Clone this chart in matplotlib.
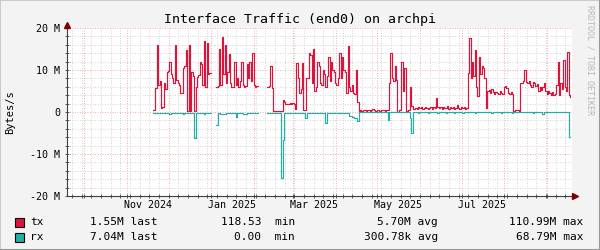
import matplotlib
matplotlib.use("Agg")
import matplotlib.pyplot as plt
import matplotlib.dates as mdates
from matplotlib.lines import Line2D
from matplotlib.patches import Rectangle
from matplotlib.ticker import MultipleLocator, FixedLocator, FixedFormatter, NullFormatter
from matplotlib.transforms import ScaledTranslation, blended_transform_factory
import numpy as np
import pandas as pd

nan = np.nan

# one sample per day, MBytes/s
start_day = "2024-11-19 12:00"

tx = [
    0.4, 0.5, 5.7, 16.0, 6.5, 7.5, 1.0, 1.2, 7.0, 5.5,
    9.5, 9.8, 12.0, 9.0, 8.2, 7.0, 16.0, 7.6, 7.0, 6.5,
    4.5, 4.5, 10.5, 11.0, 14.8, 0.2, 16.0, 0.3, 9.5, 8.6,
    0.3, 6.0, 8.3, 8.8, 12.0, 11.5, 6.5, 17.0, 6.0, 16.5,
    9.0, 9.2, nan, nan, nan, nan, 6.0, 6.2, 15.0, 6.5,
    17.8, 9.0, 16.0, 7.0, 9.5, 13.7, 7.0, 6.0, 6.0, 12.0,
    6.5, 8.0, 6.0, 7.5, 12.0, 6.5, 6.0, 6.3, 11.5, 8.0,
    12.0, 7.5, 14.0, 6.5, 6.0, 6.2, nan, nan, nan, nan,
    nan, nan, nan, 6.0, 6.2, 11.0, 5.7, 0.3, 0.2, 0.3,
    0.3, 0.2, 0.3, 0.3, 2.9, 2.5, 1.8, 2.0, 1.9, 2.1,
    2.0, 2.2, 2.0, 0.8, 11.7, 8.2, 4.5, 5.5, 11.7, 0.4,
    0.5, 8.2, 8.0, 14.0, 13.5, 7.0, 15.0, 5.0, 6.0, 12.0,
    11.0, 7.0, 6.5, 10.0, 9.0, 6.0, 8.5, 13.0, 7.5, 12.0,
    10.0, 9.5, 7.0, 6.5, 8.0, 14.0, 8.0, 13.0, 10.0, 9.5,
    4.5, 15.7, 6.0, 5.0, 6.5, 4.5, 4.3, 10.0, 2.5, 0.3,
    0.4, 0.3, 0.5, 0.4, 0.3, 0.4, 0.5, 0.3, 0.4, 0.6,
    0.4, 0.3, 0.5, 0.4, 0.3, 0.4, 0.5, 0.4, 0.3, 0.4,
    0.5, 7.0, 14.0, 8.0, 7.5, 11.0, 7.6, 0.1, 0.4, 0.5,
    12.0, 5.0, 10.5, 0.1, 0.3, 0.4, 6.0, 1.5, 0.6, 0.8,
    1.0, 0.7, 1.2, 0.9, 1.1, 0.8, 1.0, 1.3, 0.9, 0.7,
    1.0, 1.2, 0.8, 1.1, 0.9, 3.3, 1.2, 0.9, 1.1, 0.8,
    1.3, 0.9, 1.0, 1.5, 0.8, 1.1, 0.9, 1.2, 0.7, 1.0,
    1.6, 1.0, 0.8, 1.2, 0.9, 1.1, 0.7, 1.0, 9.3, 17.6,
    8.0, 12.0, 8.5, 14.8, 6.0, 3.8, 13.0, 9.0, 11.0, 10.5,
    8.0, 1.0, 5.0, 5.2, 4.6, 5.5, 4.8, 4.3, 4.8, 4.5,
    4.2, 4.9, 4.6, 4.4, 6.0, 6.3, 5.8, 4.5, 4.2, 4.7,
    4.4, 0.3, 0.5, 0.5, 0.4, 0.0, 7.0, 6.8, 7.5, 10.0,
    7.2, 6.8, 7.5, 6.5, 6.0, 7.2, 6.8, 6.2, 6.6, 5.0,
    6.0, 5.2, 6.0, 7.0, 5.0, 4.2, 5.0, 4.5, 4.0, 4.8,
    4.0, 4.2, 6.5, 12.0, 4.0, 7.0, 5.5, 12.4, 6.0, 5.0,
    14.3, 4.0, 3.6,
]

# rx is drawn below the zero line
rx = [
    0.2, 0.2, 0.3, 0.2, 0.2, 0.2, 0.3, 0.2, 0.2, 0.2,
    0.2, 0.2, 0.5, 0.2, 0.2, 0.2, 0.2, 0.2, 0.2, 0.2,
    0.2, 0.2, 0.5, 0.2, 0.2, 0.2, 0.2, 0.2, 0.2, 0.2,
    6.2, 0.3, 0.2, 0.2, 0.2, 0.2, 0.2, 0.5, 0.2, 0.2,
    0.2, 0.2, nan, nan, nan, nan, 3.0, 0.3, 0.3, 0.5,
    0.5, 0.5, 0.5, 0.2, 0.2, 0.2, 0.2, 0.2, 0.2, 0.2,
    1.2, 0.2, 0.2, 0.2, 0.2, 0.5, 0.5, 0.5, 0.2, 0.2,
    0.2, 0.2, 0.2, 0.2, 0.2, 0.2, nan, nan, nan, nan,
    nan, nan, nan, 0.2, 0.2, 0.2, 0.2, 0.2, 0.2, 0.2,
    0.2, 0.2, 0.2, 15.8, 6.7, 0.3, 0.3, 0.3, 0.3, 0.3,
    0.3, 0.3, 0.3, 0.3, 0.3, 0.2, 0.2, 0.2, 0.2, 0.3,
    1.4, 1.4, 0.3, 0.2, 0.2, 0.2, 0.2, 0.2, 0.2, 0.2,
    0.2, 0.2, 0.2, 0.2, 0.2, 2.6, 0.3, 0.2, 0.2, 0.2,
    0.2, 0.2, 0.2, 0.2, 0.2, 0.2, 0.2, 0.2, 0.2, 0.2,
    0.2, 0.2, 1.0, 1.0, 1.2, 1.3, 1.5, 1.4, 2.2, 0.05,
    0.05, 0.05, 0.05, 0.05, 0.05, 0.05, 0.05, 0.05, 0.05, 0.05,
    0.05, 0.05, 0.05, 0.05, 0.05, 0.05, 0.05, 0.05, 0.05, 0.05,
    1.8, 0.05, 0.05, 0.05, 0.05, 0.05, 0.05, 0.05, 0.05, 0.05,
    0.05, 0.05, 0.05, 0.05, 0.05, 0.05, 1.4, 5.0, 0.05, 0.05,
    0.05, 0.05, 0.3, 0.05, 0.05, 0.05, 0.05, 0.05, 0.05, 0.3,
    0.05, 0.05, 0.05, 0.05, 0.05, 0.05, 0.3, 0.05, 0.05, 0.05,
    0.05, 0.05, 0.3, 0.05, 0.05, 0.05, 0.05, 0.05, 0.3, 0.05,
    0.05, 0.05, 0.05, 0.05, 0.3, 0.05, 0.05, 0.05, 0.05, 0.05,
    0.05, 0.05, 0.05, 0.3, 0.05, 0.05, 0.05, 0.05, 0.05, 0.05,
    0.05, 0.05, 0.05, 0.05, 0.05, 0.3, 0.05, 0.05, 0.05, 0.05,
    0.05, 0.05, 0.3, 0.05, 0.05, 0.05, 0.05, 0.05, 0.05, 0.05,
    0.3, 0.05, 0.05, 0.05, 0.05, 0.05, 0.05, 0.05, 0.05, 0.05,
    0.05, 0.05, 0.05, 0.05, 0.05, 0.3, 0.05, 0.05, 0.05, 0.05,
    0.05, 0.05, 0.5, 0.05, 0.05, 0.05, 0.05, 0.05, 0.05, 0.05,
    0.05, 0.05, 0.05, 0.05, 0.05, 0.05, 0.05, 0.05, 0.05, 0.05,
    0.05, 6.0, 6.0,
]

x_start = "2024-09-18 03:00"
x_end = "2025-09-18 22:00"

label_months = ["2024-11-01", "2025-01-01", "2025-03-01", "2025-05-01", "2025-07-01"]
month_labels = ["Nov 2024", "Jan 2025", "Mar 2025", "May 2025", "Jul 2025"]

y_ticks = [-20, -10, 0, 10, 20]
y_tick_labels = ["-20 M", "-10 M", "0", "10 M", "20 M"]

series_names = ["tx", "rx"]
legend_last = ["1.55M last", "7.04M last"]
legend_min = ["118.53  min", "0.00  min"]
legend_avg = ["5.70M avg", "300.78k avg"]
legend_max = ["110.99M max", "68.79M max"]

TX_COLOR = "#DC143C"
RX_COLOR = "#20B0A8"
colors = [TX_COLOR, RX_COLOR]

plt.rcParams["font.family"] = ["DejaVu Sans Mono"]

W, H = 600, 250
fig = plt.figure(figsize=(6, 2.5), dpi=100, facecolor="#F3F3F3")
left, right, top, bottom = 66.5, 572, 28, 196
ax = fig.add_axes([left / W, 1 - bottom / H, (right - left) / W, (bottom - top) / H])
ax.set_facecolor("white")

days = pd.date_range(start_day, periods=len(tx), freq="D")
ax.plot(days, tx, drawstyle="steps-post", color=TX_COLOR, lw=0.85, zorder=3)
ax.plot(days, -np.array(rx), drawstyle="steps-post", color=RX_COLOR, lw=0.85, zorder=4)

ax.set_xlim(pd.Timestamp(x_start), pd.Timestamp(x_end))
ax.set_ylim(-20, 20)

# grid: weeks / months, 2M / 10M
ax.xaxis.set_major_locator(mdates.MonthLocator())
ax.xaxis.set_minor_locator(mdates.WeekdayLocator(byweekday=mdates.SU))
ax.xaxis.set_major_formatter(NullFormatter())
ax.yaxis.set_major_locator(FixedLocator(y_ticks))
ax.yaxis.set_major_formatter(FixedFormatter(y_tick_labels))
ax.yaxis.set_minor_locator(MultipleLocator(2))
ax.grid(which="minor", color="#D6D6D6", linestyle=(0, (1, 1.5)), lw=0.72, zorder=1)
ax.grid(which="major", color="#F3B0B0", linestyle=(0, (1, 1.5)), lw=0.72, zorder=2)
ax.set_axisbelow(True)

for s in ["top", "right"]:
    ax.spines[s].set_visible(False)
for s in ["left", "bottom"]:
    ax.spines[s].set_color("#404040")
    ax.spines[s].set_linewidth(0.8)
ax.tick_params(which="both", direction="inout", length=3, width=0.6, color="#404040")
ax.tick_params(axis="y", labelsize=7.2, pad=3)

# axis arrows
arrow_kw = dict(color="#7F0000", markersize=4.5, clip_on=False, zorder=6, ls="none")
ax.plot([0], [1], marker="^", transform=ax.transAxes + ScaledTranslation(0, 0.035, fig.dpi_scale_trans), **arrow_kw)
ax.plot([1], [0], marker=">", transform=ax.transAxes + ScaledTranslation(0.025, 0, fig.dpi_scale_trans), **arrow_kw)

# month labels sit in the middle of their month
trans = blended_transform_factory(ax.transData, ax.transAxes)
for m, lab in zip(label_months, month_labels):
    pos = mdates.date2num(pd.Timestamp(m) + pd.Timedelta(days=15))
    ax.text(pos, -9 / (bottom - top), lab, transform=trans, ha="center", va="center", fontsize=7.2)

fig.text(300 / W, 1 - 19.5 / H, "Interface Traffic (end0) on archpi", ha="center", va="center", fontsize=9.5)
fig.text(10 / W, 1 - 112 / H, "Bytes/s", rotation=90, ha="center", va="center", fontsize=7.5)
fig.text(590 / W, 1 - 60 / H, "RRDTOOL / TOBI OETIKER", rotation=270, ha="center", va="center",
         fontsize=6, color="#B8B8B8")

# legend
row_y = [222, 237]
for i in range(len(series_names)):
    y = 1 - row_y[i] / H
    fig.add_artist(Rectangle((15 / W, 1 - (row_y[i] + 4.5) / H), 9 / W, 9 / H, transform=fig.transFigure,
                             facecolor=colors[i], edgecolor="black", lw=0.8))
    fig.text(30 / W, y, series_names[i], ha="left", va="center", fontsize=8)
    fig.text(158 / W, y, legend_last[i], ha="right", va="center", fontsize=8)
    fig.text(295 / W, y, legend_min[i], ha="right", va="center", fontsize=8)
    fig.text(438 / W, y, legend_avg[i], ha="right", va="center", fontsize=8)
    fig.text(583 / W, y, legend_max[i], ha="right", va="center", fontsize=8)

# 3d frame around the image
fig.add_artist(Line2D([0, 1], [1, 1], color="#CBCBCB", lw=1.5, transform=fig.transFigure))
fig.add_artist(Line2D([0, 0], [0, 1], color="#CBCBCB", lw=1.5, transform=fig.transFigure))
fig.add_artist(Line2D([0, 1], [0, 0], color="#999999", lw=1.5, transform=fig.transFigure))
fig.add_artist(Line2D([1, 1], [0, 1], color="#999999", lw=1.5, transform=fig.transFigure))

fig.savefig("out.png", dpi=100, facecolor=fig.get_facecolor())
